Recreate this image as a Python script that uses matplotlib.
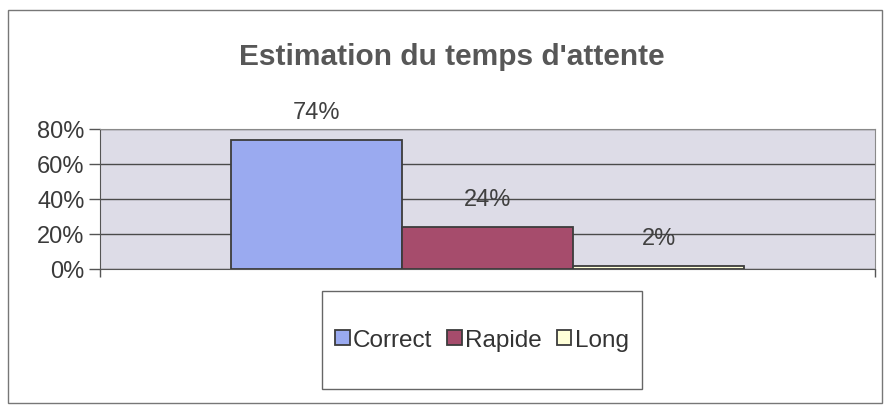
import matplotlib.pyplot as plt
from matplotlib.patches import Rectangle

plt.rcParams['font.family'] = ['Liberation Sans', 'DejaVu Sans']

# data
categories = ["Correct", "Rapide", "Long"]
values = [74, 24, 2]
labels = ["74%", "24%", "2%"]
colors = ["#9aaaf0", "#a64c6c", "#ffffd8"]
yticks = [0, 20, 40, 60, 80]

W, H = 885, 410
fig = plt.figure(figsize=(W / 100, H / 100), dpi=100)

# outer frame of the chart
fig.patches.append(Rectangle((8 / W, 6 / H), 874 / W, 393 / H, transform=fig.transFigure,
                             fill=False, edgecolor="#777777", linewidth=1))

ax = fig.add_axes([100 / W, (H - 270) / H, 775 / W, 140 / H])
ax.set_facecolor("#dddce7")

width = 0.221
for i, (cat, v, lab, c) in enumerate(zip(categories, values, labels, colors)):
    x = (i - 1) * width
    ax.bar(x, v, width=width, color=c, edgecolor="#3c3c3c", linewidth=1.3, label=cat, zorder=3)
    ax.annotate(lab, (x, v), xytext=(0, 20), textcoords="offset points",
                ha="center", va="center", fontsize=17, color="#404040", zorder=4)

ax.set_xlim(-0.5, 0.5)
ax.set_ylim(0, 80)
ax.set_yticks(yticks)
ax.set_yticklabels([f"{t}%" for t in yticks])
ax.set_xticks([-0.5, 0.5])
ax.set_xticklabels([])
ax.tick_params(axis="y", direction="out", length=8, width=1, color="#555555",
               labelsize=17, labelcolor="#3a3a3a", pad=3)
ax.tick_params(axis="x", direction="out", length=6, width=1, color="#555555")
ax.grid(axis="y", color="#4a4a4a", linewidth=1, zorder=1)
for s in ["top", "right"]:
    ax.spines[s].set_color("#8a8a8a")
ax.spines["left"].set_color("#555555")
ax.spines["bottom"].set_color("#555555")

fig.text(452 / W, (H - 57) / H, "Estimation du temps d'attente", ha="center", va="center",
         fontsize=21.5, fontweight="bold", color="#575757")

# legend box
fig.patches.append(Rectangle((322 / W, (H - 390) / H), 320 / W, 98 / H, transform=fig.transFigure,
                             fill=False, edgecolor="#666666", linewidth=1))
leg = fig.legend(loc="center", bbox_to_anchor=(482 / W, (H - 341) / H), ncol=3, frameon=False,
                 fontsize=17.5, handlelength=0.6, handleheight=0.6, handletextpad=0.15,
                 columnspacing=0.6, labelcolor="#333333")

fig.savefig("out.png", dpi=100)
